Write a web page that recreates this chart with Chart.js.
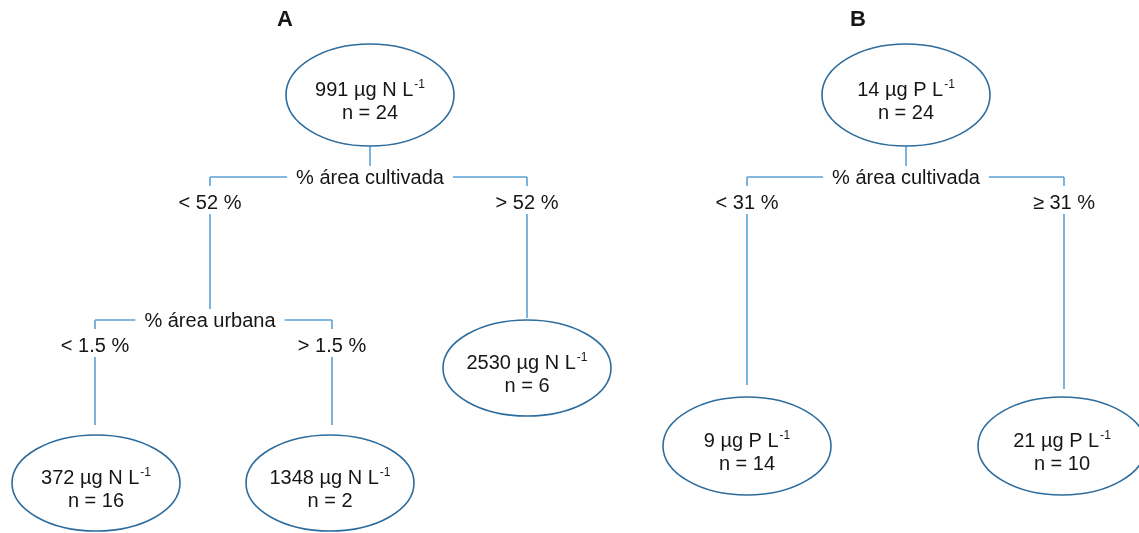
<!DOCTYPE html>
<html>
<head>
<meta charset="utf-8">
<script src="https://cdn.jsdelivr.net/npm/chart.js@4"></script>
<style>
    html, body { margin: 0 ; padding: 0 ; background: #ffffff ; }
    #treeCanvas { display: block ; }
</style>
</head>
<body>
<canvas id="treeCanvas" width="1139" height="533"></canvas>
<script>
// ---------------- Data -------------------------------------------------------
const panelTitles   = [ 'A', 'B' ] ;

// Node contents (regression tree roots and leaves)
const nodeValues    = [ '991', '372', '1348', '2530', '14', '9', '21' ] ;
const nodeUnits     = [ 'µg N L', 'µg N L', 'µg N L', 'µg N L', 'µg P L', 'µg P L', 'µg P L' ] ;
const nodeCounts    = [ 24, 16, 2, 6, 24, 14, 10 ] ;

// Splits and their branch conditions
const splitNames    = [ '% área cultivada', '% área urbana', '% área cultivada' ] ;
const branchSplit   = [ 0, 0, 1, 1, 2, 2 ] ;
const branchLabels  = [ '< 52 %', '> 52 %', '< 1.5 %', '> 1.5 %', '< 31 %', '≥ 31 %' ] ;

// ---------------- Layout (diagram units = page pixels) ----------------------
const titleX  = [ 285, 858 ] ;
const titleY  = [ 20, 20 ] ;

const nodeX   = [ 370, 96, 330, 527, 906, 747, 1062 ] ;
const nodeY   = [ 95, 483, 483, 368, 95, 446, 446 ] ;
const nodeRY  = [ 51, 48, 48, 48, 51, 49, 49 ] ;
const NODE_RX = 84 ;

const rootNodes   = [ 0, 4 ] ;       // stems go from these nodes to a split
const rootSplits  = [ 0, 2 ] ;

const splitX  = [ 370, 210, 906 ] ;
const splitY  = [ 177, 320, 177 ] ;

const branchX    = [ 210, 527, 95, 332, 747, 1064 ] ;
const branchEndY = [ 320, 318, 425, 425, 385, 389 ] ;

const LINE_COLOR    = '#5aa2d6' ;
const ELLIPSE_COLOR = '#2d6c9c' ;
const TEXT_COLOR    = '#161616' ;
const FONT_FAMILY   = '"Liberation Sans", Arial, sans-serif' ;

// ---------------- Line segments ---------------------------------------------
var datasets = [] ;

function addSegment( x1, y1, x2, y2 ) {
    datasets.push( {
        type        : 'line',
        data        : [ { x: x1, y: y1 }, { x: x2, y: y2 } ],
        borderColor : LINE_COLOR,
        borderWidth : 1.6,
        pointRadius : 0,
        tension     : 0,
        fill        : false
    } ) ;
}

// stems from the roots down to the first split
for( var i=0; i<rootNodes.length; i++ ) {
    var n = rootNodes[i] ;
    var s = rootSplits[i] ;
    addSegment( nodeX[n], nodeY[n] + nodeRY[n], splitX[s], splitY[s] ) ;
}

// horizontal bar of every split
for( var s=0; s<splitNames.length; s++ ) {
    var xs = [] ;
    for( var b=0; b<branchSplit.length; b++ ) {
        if( branchSplit[b] == s ) xs.push( branchX[b] ) ;
    }
    addSegment( Math.min.apply( null, xs ), splitY[s], Math.max.apply( null, xs ), splitY[s] ) ;
}

// vertical branches
for( var b=0; b<branchSplit.length; b++ ) {
    addSegment( branchX[b], splitY[ branchSplit[b] ], branchX[b], branchEndY[b] ) ;
}

// ---------------- Nodes and labels plugin -----------------------------------
function labelBox( ctx, text, cx, top, bottom, padX, textY ) {
    var w = ctx.measureText( text ).width ;
    ctx.fillStyle = '#ffffff' ;
    ctx.fillRect( cx - w/2 - padX, top, w + 2*padX, bottom - top ) ;
    ctx.fillStyle = TEXT_COLOR ;
    ctx.fillText( text, cx, textY ) ;
}

const treePlugin = {
    id : 'treeNodes',
    afterDatasetsDraw : function( chart ) {
        var ctx = chart.ctx ;
        var sx  = chart.scales.x ;
        var sy  = chart.scales.y ;
        ctx.save() ;

        // split names over the horizontal bars
        ctx.font = '20px ' + FONT_FAMILY ;
        ctx.textAlign = 'center' ;
        ctx.textBaseline = 'middle' ;
        for( var s=0; s<splitNames.length; s++ ) {
            var py = sy.getPixelForValue( splitY[s] ) ;
            labelBox( ctx, splitNames[s], sx.getPixelForValue( splitX[s] ), py - 11, py + 11, 9, py + 1 ) ;
        }

        // branch conditions
        for( var b=0; b<branchLabels.length; b++ ) {
            var py = sy.getPixelForValue( splitY[ branchSplit[b] ] ) ;
            labelBox( ctx, branchLabels[b], sx.getPixelForValue( branchX[b] ), py + 9, py + 37, 6, py + 26 ) ;
        }

        // ellipses with their text
        for( var i=0; i<nodeValues.length; i++ ) {
            var cx = sx.getPixelForValue( nodeX[i] ) ;
            var cy = sy.getPixelForValue( nodeY[i] ) ;

            ctx.beginPath() ;
            ctx.ellipse( cx, cy, NODE_RX, nodeRY[i], 0, 0, 2*Math.PI ) ;
            ctx.fillStyle = '#ffffff' ;
            ctx.fill() ;
            ctx.lineWidth = 1.6 ;
            ctx.strokeStyle = ELLIPSE_COLOR ;
            ctx.stroke() ;

            ctx.fillStyle = TEXT_COLOR ;
            ctx.textBaseline = 'alphabetic' ;

            var main = nodeValues[i] + ' ' + nodeUnits[i] ;
            ctx.font = '20px ' + FONT_FAMILY ;
            var w1 = ctx.measureText( main ).width ;
            ctx.font = '12px ' + FONT_FAMILY ;
            var w2 = ctx.measureText( '-1' ).width ;
            var left = cx - ( w1 + w2 + 1 ) / 2 ;

            ctx.textAlign = 'left' ;
            ctx.font = '20px ' + FONT_FAMILY ;
            ctx.fillText( main, left, cy + 1 ) ;
            ctx.font = '12px ' + FONT_FAMILY ;
            ctx.fillText( '-1', left + w1 + 1, cy - 7 ) ;

            ctx.textAlign = 'center' ;
            ctx.font = '20px ' + FONT_FAMILY ;
            ctx.fillText( 'n = ' + nodeCounts[i], cx, cy + 24 ) ;
        }

        // panel titles
        ctx.font = 'bold 22px ' + FONT_FAMILY ;
        ctx.textAlign = 'center' ;
        ctx.textBaseline = 'middle' ;
        for( var t=0; t<panelTitles.length; t++ ) {
            ctx.fillText( panelTitles[t], sx.getPixelForValue( titleX[t] ), sy.getPixelForValue( titleY[t] ) ) ;
        }

        ctx.restore() ;
    }
} ;

// ---------------- Chart -----------------------------------------------------
var canvas = document.getElementById( 'treeCanvas' ) ;
var chart = new Chart( canvas, {
    type : 'scatter',
    data : { datasets : datasets },
    options : {
        responsive : false,
        animation  : false,
        layout     : { padding : 0 },
        plugins : {
            legend  : { display : false },
            tooltip : { enabled : false }
        },
        scales : {
            x : { type : 'linear', min : 0, max : 1139, display : false },
            y : { type : 'linear', min : 0, max : 533, reverse : true, display : false }
        }
    },
    plugins : [ treePlugin ]
} ) ;
</script>
</body>
</html>
